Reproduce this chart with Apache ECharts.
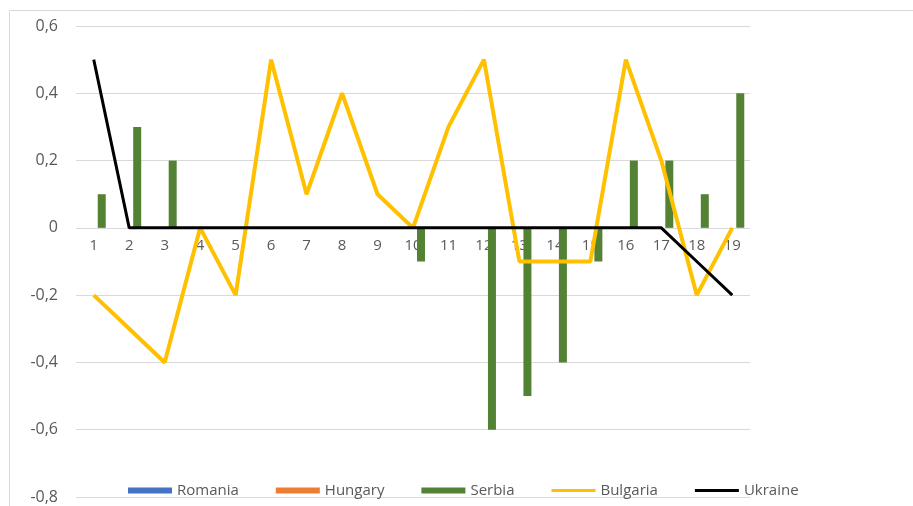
<!DOCTYPE html>
<html>
<head>
<meta charset="utf-8">
<script src="https://cdn.jsdelivr.net/npm/echarts@6/dist/echarts.min.js"></script>
<style>
	html, body { margin: 0; padding: 0; background: #fff; }
	#chart { width: 913px; height: 506px; }
</style>
</head>
<body>
<div id="chart"></div>
<script>
var categories = ['1', '2', '3', '4', '5', '6', '7', '8', '9', '10', '11', '12', '13', '14', '15', '16', '17', '18', '19'];
var romania = [0, 0, 0, 0, 0, 0, 0, 0, 0, 0, 0, 0, 0, 0, 0, 0, 0, 0, 0];
var hungary = [0, 0, 0, 0, 0, 0, 0, 0, 0, 0, 0, 0, 0, 0, 0, 0, 0, 0, 0];
var serbia = [0.1, 0.3, 0.2, 0, 0, 0, 0, 0, 0, -0.1, 0, -0.6, -0.5, -0.4, -0.1, 0.2, 0.2, 0.1, 0.4];
var bulgaria = [-0.2, -0.3, -0.4, 0, -0.2, 0.5, 0.1, 0.4, 0.1, 0, 0.3, 0.5, -0.1, -0.1, -0.1, 0.5, 0.2, -0.2, 0];
var ukraine = [0.5, 0, 0, 0, 0, 0, 0, 0, 0, 0, 0, 0, 0, 0, 0, 0, 0, -0.1, -0.2];

var chart = echarts.init(document.getElementById('chart'));
var txt = '#595959';
var font = 'Open Sans';
// line icon for legend: thin bar, padded box so it is not stretched
var lineIcon = 'path://M0,0M0,6M0,1.5H44V4.5H0Z';

chart.setOption({
	animation: false,
	graphic: [
		{
			type: 'polyline',
			shape: { points: [[9.5, 506], [9.5, 10.5], [913, 10.5]] },
			style: { stroke: '#d9d9d9', fill: null, lineWidth: 1 }
		}
	],
	grid: { left: 76, right: 163, top: 26, bottom: 9, outerBoundsMode: 'none', containLabel: false },
	legend: {
		bottom: 3,
		left: 123,
		itemWidth: 44,
		itemHeight: 6,
		itemGap: 37,
		textStyle: { color: txt, fontSize: 15, fontFamily: font },
		data: [
			{ name: 'Romania', icon: 'rect' },
			{ name: 'Hungary', icon: 'rect' },
			{ name: 'Serbia', icon: 'rect' },
			{ name: 'Bulgaria', icon: lineIcon },
			{ name: 'Ukraine', icon: lineIcon }
		]
	},
	xAxis: {
		type: 'category',
		data: categories,
		position: 'bottom',
		offset: -269,   // labels sit just under the zero line, as in the original
		axisLine: { show: false, onZero: false },
		axisTick: { show: false },
		axisLabel: { color: txt, fontSize: 15, fontFamily: font, margin: 10 }
	},
	yAxis: {
		type: 'value',
		min: -0.8,
		max: 0.6,
		interval: 0.2,
		axisLine: { show: false },
		axisTick: { show: false },
		splitLine: { lineStyle: { color: '#d9d9d9', width: 1 } },
		axisLabel: {
			color: txt, fontSize: 16, fontFamily: font, margin: 18,
			formatter: function (v) {
				return (Math.round(v * 10) / 10).toString().replace('.', ',');
			}
		}
	},
	series: [
		{ name: 'Romania', type: 'bar', data: romania, barWidth: 8, barGap: '0%', itemStyle: { color: '#4472c4' } },
		{ name: 'Hungary', type: 'bar', data: hungary, barWidth: 8, barGap: '0%', itemStyle: { color: '#ed7d31' } },
		{ name: 'Serbia', type: 'bar', data: serbia, barWidth: 8, barGap: '0%', itemStyle: { color: '#548235' } },
		{
			name: 'Bulgaria', type: 'line', data: bulgaria, symbol: 'none',
			lineStyle: { color: '#ffc000', width: 4 }, itemStyle: { color: '#ffc000' }
		},
		{
			name: 'Ukraine', type: 'line', data: ukraine, symbol: 'none',
			lineStyle: { color: '#000000', width: 3 }, itemStyle: { color: '#000000' }
		}
	]
});
</script>
</body>
</html>
